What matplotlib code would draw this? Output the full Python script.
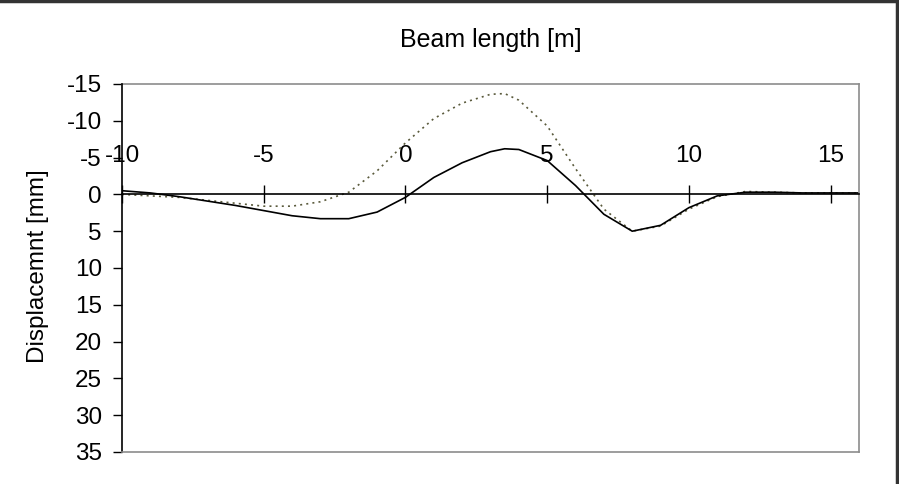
import matplotlib
matplotlib.use("Agg")
import matplotlib.pyplot as plt
from matplotlib.lines import Line2D

plt.rcParams['font.family'] = ['Liberation Sans', 'DejaVu Sans']

x_pos = [-10, -9, -8, -7, -6, -5, -4, -3, -2, -1, 0, 1, 2, 3, 3.5, 4, 5, 6, 7, 8, 9, 10, 11, 12, 13, 14, 15, 16]
solid = [-0.5, -0.2, 0.3, 0.9, 1.5, 2.2, 2.9, 3.3, 3.3, 2.4, 0.4, -2.3, -4.3, -5.8, -6.2, -6.1, -4.6, -1.2, 2.7, 5.0, 4.2, 1.8, 0.2, -0.3, -0.3, -0.2, -0.2, -0.2]
dotted = [0.0, 0.2, 0.4, 0.8, 1.2, 1.6, 1.6, 1.0, -0.3, -3.2, -7.0, -10.3, -12.4, -13.6, -13.7, -12.8, -9.3, -3.5, 2.0, 5.0, 4.3, 2.0, 0.3, -0.4, -0.3, -0.2, -0.2, -0.2]
x_ticks = [-10, -5, 0, 5, 10, 15]
y_ticks = [-15, -10, -5, 0, 5, 10, 15, 20, 25, 30, 35]

fig = plt.figure(figsize=(8.99, 4.84), dpi=100)
ax = fig.add_axes([122/899, 1-452/484, (859-122)/899, (452-84)/484])

ax.plot(x_pos, dotted, color='#5a5a3c', linestyle=(0, (1.2, 2.5)), linewidth=1.2)
ax.plot(x_pos, solid, color='black', linewidth=1.2)

ax.set_xlim(-10, 16)
ax.set_ylim(35, -15)
ax.set_yticks(y_ticks)
ax.set_yticklabels([str(v) for v in y_ticks])

# x axis crossing at y = 0, labels above
ax.spines['top'].set_position(('data', 0))
ax.spines['top'].set_color('black')
ax.spines['top'].set_linewidth(1.2)
ax.xaxis.tick_top()
ax.set_xticks(x_ticks)
ax.set_xticklabels([str(v) for v in x_ticks])
ax.tick_params(axis='x', direction='inout', length=13, width=1.0, pad=13, labelsize=17.5)
ax.tick_params(axis='y', direction='out', length=6.5, width=1.0, pad=8, labelsize=17.5)

ax.spines['left'].set_color('black')
ax.spines['left'].set_linewidth(1.2)
for s in ['bottom', 'right']:
    ax.spines[s].set_color('#8c8c8c')
    ax.spines[s].set_linewidth(1.2)
ax.add_line(Line2D([0, 1], [1, 1], transform=ax.transAxes, color='#8c8c8c', linewidth=1.2, clip_on=False))

fig.text(38/899, 1-266/484, 'Displacemnt [mm]', rotation=90, ha='center', va='center', fontsize=17.5)
fig.text(491/899, 1-40/484, 'Beam length [m]', ha='center', va='center', fontsize=18)

# outer frame (top and right edges visible)
fig.add_artist(Line2D([0, 1], [1-1/484, 1-1/484], transform=fig.transFigure, color='#333333', linewidth=2.5))
fig.add_artist(Line2D([1-2/899, 1-2/899], [0, 1], transform=fig.transFigure, color='#333333', linewidth=2.5))

fig.savefig('out.png', dpi=100)
